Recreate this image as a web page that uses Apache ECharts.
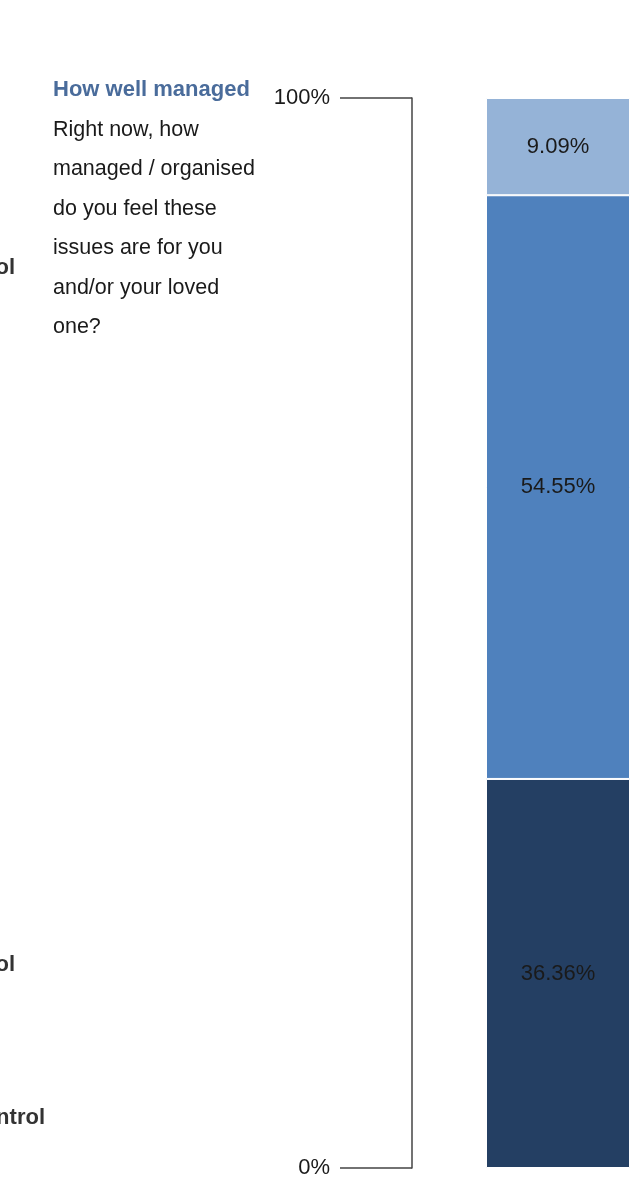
<!DOCTYPE html>
<html>
<head>
<meta charset="utf-8">
<script src="https://cdn.jsdelivr.net/npm/echarts@6/dist/echarts.min.js"></script>
<style>
html,body{margin:0;padding:0;background:#fff;overflow:hidden;width:636px;height:1179px;}
#chart{width:704px;height:1179px;}
</style>
</head>
<body>
<div id="chart"></div>
<script>
const categories = ['How well managed'];
const seriesNames = ['Not managed', 'Somewhat managed', 'Well managed'];
const seriesValues = [[36.36], [54.55], [9.09]];
const seriesColors = ['#243f63', '#4f81bd', '#95b3d7'];
const yTicks = [0, 100];
const titleText = 'How well managed';
const subtitleLines = ['Right now, how', 'managed / organised', 'do you feel these', 'issues are for you', 'and/or your loved', 'one?'];
const sideFragments = ['Control', 'Control', 'Control'];

const FONT = '"Liberation Sans", Arial, sans-serif';
const chart = echarts.init(document.getElementById('chart'));

const graphics = [];
graphics.push({type:'text', x:53, y:90, style:{text:titleText, font:'bold 22px ' + FONT, fill:'#4a6c9b', verticalAlign:'middle'}});
subtitleLines.forEach((t,i)=>{
  graphics.push({type:'text', x:53, y:130 + i*39.4, style:{text:t, font:'21.5px ' + FONT, fill:'#1a1a1a', verticalAlign:'middle'}});
});
const fragY = [268, 965, 1118];
const fragX = [15, 15, 45];
sideFragments.forEach((t,i)=>{
  graphics.push({type:'text', x:fragX[i], y:fragY[i], style:{text:t, font:'bold 22px ' + FONT, fill:'#333', align:'right', verticalAlign:'middle'}});
});

chart.setOption({
  animation:false,
  graphic: graphics,
  grid:{left:412, top:98, bottom:7, right:0, containLabel:false},
  xAxis:{type:'category', data:categories, axisLine:{show:false}, axisTick:{show:false}, axisLabel:{show:false}},
  yAxis:{type:'value', min:yTicks[0], max:yTicks[1], interval:100,
    axisLine:{show:true, lineStyle:{color:'#444', width:1.5}},
    axisTick:{show:true, length:72, lineStyle:{color:'#444', width:1.5}},
    axisLabel:{formatter:'{value}%', margin:82, fontSize:22, fontFamily:FONT, color:'#1a1a1a'},
    splitLine:{show:false}},
  series: seriesNames.map((n,i)=>({
    name:n, type:'bar', stack:'total', barWidth:144, data:seriesValues[i],
    itemStyle:{color:seriesColors[i], borderColor:'#fff', borderWidth:1},
    label:{show:true, position:'inside', formatter:(p)=>p.value.toFixed(2)+'%', fontSize:22, fontFamily:FONT, color:'#1a1a1a'}
  }))
});
</script>
</body>
</html>
